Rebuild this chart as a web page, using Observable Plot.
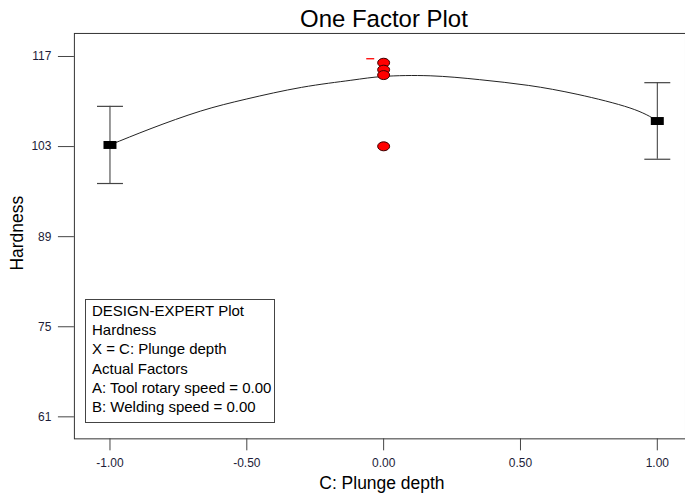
<!DOCTYPE html>
<html>
<head>
<meta charset="utf-8">
<script src="https://cdn.jsdelivr.net/npm/d3@7"></script>
<script src="https://cdn.jsdelivr.net/npm/@observablehq/plot@0.6"></script>
<style>
  html, body { margin: 0; padding: 0; background: #fff; overflow: hidden; }
  #wrap { position: relative; width: 685px; height: 494px; }
  #legend {
    position: absolute; left: 85px; top: 299px; width: 182px; height: 121px;
    border: 1px solid #444; padding: 1px 0 0 6px; box-sizing: content-box;
    font-family: "Liberation Sans", Arial, sans-serif; font-size: 15px; line-height: 19.2px;
    color: #000; background: #fff; white-space: nowrap;
  }
</style>
</head>
<body>
<div id="wrap"></div>
<script>
// ---- data ----
const xTicks = [-1, -0.5, 0, 0.5, 1];
const yTicks = [61, 75, 89, 103, 117];

// predicted curve
const curveX = [-1, -0.85, -0.67, -0.5, -0.3, -0.12, 0, 0.17, 0.35, 0.53, 0.71, 0.9, 1];
const curveY = [103.25, 105.8, 108.5, 110.4, 112.2, 113.3, 113.9, 114.0, 113.4, 112.5, 111.1, 109.0, 107.0];

// factor-level means with LSD bars
const levelX = [-1, 1];
const levelMean = [103.25, 106.97];
const levelLow = [97.26, 101.03];
const levelHigh = [109.25, 112.93];

// design points (center points at C = 0)
const designX = [0, 0, 0, 0];
const designY = [116.03, 114.95, 114.11, 103.04];

// small red marker
const markX = [-0.049];
const markY = [116.65];

const legendLines = [
  "DESIGN-EXPERT Plot",
  "Hardness",
  "X = C: Plunge depth",
  "Actual Factors",
  "A: Tool rotary speed = 0.00",
  "B: Welding speed = 0.00"
];

// ---- tables ----
const curve = curveX.map((x, i) => ({x, y: curveY[i]}));
const levels = levelX.map((x, i) => ({x, mean: levelMean[i], lo: levelLow[i], hi: levelHigh[i]}));
const design = designX.map((x, i) => ({x, y: designY[i]}));
const marks2 = markX.map((x, i) => ({x, y: markY[i]}));

// ---- symbols ----
const ellipse = {draw(ctx) {
  const a = 6, b = 4.5, k = 0.5523;
  ctx.moveTo(a, 0);
  ctx.bezierCurveTo(a, b * k, a * k, b, 0, b);
  ctx.bezierCurveTo(-a * k, b, -a, b * k, -a, 0);
  ctx.bezierCurveTo(-a, -b * k, -a * k, -b, 0, -b);
  ctx.bezierCurveTo(a * k, -b, a, -b * k, a, 0);
  ctx.closePath();
}};
const box = {draw(ctx) { ctx.rect(-6.5, -4, 13, 8); }};
const cap = {draw(ctx) { ctx.moveTo(-13, 0); ctx.lineTo(13, 0); }};
const dash = {draw(ctx) { ctx.moveTo(-4, 0); ctx.lineTo(4, 0); }};

const font = '"Liberation Sans", Arial, sans-serif';

const chart = Plot.plot({
  width: 686,
  height: 494,
  marginLeft: 74,
  marginRight: 0,
  marginTop: 33,
  marginBottom: 55,
  style: {fontFamily: font, background: "#fff", overflow: "visible"},
  x: {domain: [-1.13, 1.103]},
  y: {domain: [57.58, 120.58]},
  marks: [
    Plot.frame({stroke: "#333"}),
    Plot.axisY({ticks: yTicks, tickSize: 16, tickPadding: 7, label: null, fontSize: 12,
      tickFormat: d => String(d), stroke: "#444", fill: "#1c1c38"}),
    Plot.axisX({ticks: xTicks, tickSize: 12, tickPadding: 7.5, label: null, fontSize: 12,
      tickFormat: d => d.toFixed(2), stroke: "#444", fill: "#1c1c38"}),
    Plot.text(["One Factor Plot"], {frameAnchor: "top", lineAnchor: "bottom", dy: -6, dx: 4,
      fontSize: 24, fill: "#000"}),
    Plot.text(["C: Plunge depth"], {frameAnchor: "bottom", lineAnchor: "bottom", dy: 50, dx: 2,
      fontSize: 17.5, fill: "#000"}),
    Plot.text(["Hardness"], {frameAnchor: "left", textAnchor: "middle", lineAnchor: "middle",
      rotate: -90, dx: -57, dy: -3, fontSize: 17.5, fill: "#000"}),
    Plot.line(curve, {x: "x", y: "y", curve: "natural", stroke: "#222", strokeWidth: 1}),
    Plot.ruleX(levels, {x: "x", y1: "lo", y2: "hi", stroke: "#333", strokeWidth: 1}),
    Plot.dot(levels, {x: "x", y: "lo", symbol: cap, stroke: "#444", strokeWidth: 1.2, fill: "none"}),
    Plot.dot(levels, {x: "x", y: "hi", symbol: cap, stroke: "#444", strokeWidth: 1.2, fill: "none"}),
    Plot.dot(levels, {x: "x", y: "mean", symbol: box, fill: "#000", stroke: "none"}),
    Plot.dot(design, {x: "x", y: "y", symbol: ellipse, fill: "#ff0000", stroke: "#3a0000", strokeWidth: 1}),
    Plot.dot(marks2, {x: "x", y: "y", symbol: dash, stroke: "#ff0000", strokeWidth: 1.3, fill: "none"})
  ]
});

const wrap = document.getElementById("wrap");
wrap.appendChild(chart);
const lg = document.createElement("div");
lg.id = "legend";
lg.innerHTML = legendLines.map(s => `<div>${s}</div>`).join("");
wrap.appendChild(lg);
</script>
</body>
</html>
